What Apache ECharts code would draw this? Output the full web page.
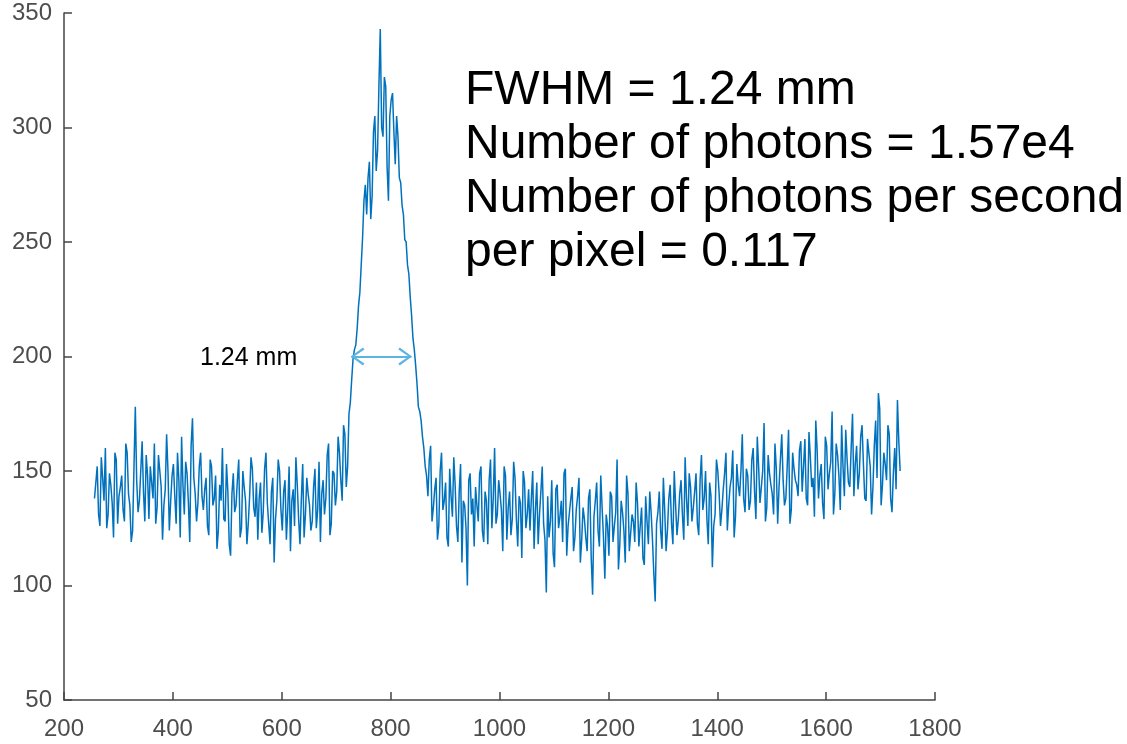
<!DOCTYPE html>
<html>
<head>
<meta charset="utf-8">
<script src="https://cdn.jsdelivr.net/npm/echarts@6/dist/echarts.min.js"></script>
<style>
html,body{margin:0;padding:0;background:#fff;}
#chart{width:1127px;height:744px;}
</style>
</head>
<body>
<div id="chart"></div>
<script>
// sample positions (detector pixel index) and read-off counts
const xStart = 256;
const xStep = 5;
// counts at xStart + i*xStep
const signal = [
  138,152,126,147,160,131,144,121,155,139,148,128,158,135,124,178,132,150,141,157,
  129,145,162,134,150,120,142,150,137,153,127,146,165,131,149,119,173,140,136,158,
  133,147,122,152,138,116,144,160,128,141,113,149,135,155,125,143,118,139,151,130,
  120,145,132,158,127,141,110,137,150,124,146,133,115,142,156,129,138,121,147,135,
  128,151,133,119,146,138,162,127,149,141,158,137,166,152,180,199,205,222,240,268,
  262,285,270,305,290,343,296,318,268,312,298,305,278,266,251,240,226,208,196,178,
  172,160,148,155,128,142,120,150,133,145,117,139,156,126,141,110,135,100,149,138,
  143,128,152,119,137,146,125,160,131,140,115,148,134,122,154,129,139,112,145,131,
  124,150,133,118,141,127,97,121,146,108,144,130,119,151,126,138,115,133,147,120,
  129,115,142,96,137,124,148,121,131,113,139,126,155,118,132,110,140,123,128,145,
  117,134,109,128,141,120,93,132,124,147,115,138,127,150,122,140,131,156,126,143,
  134,149,122,157,138,129,145,108,131,150,126,142,158,135,147,121,153,139,166,132,
  148,137,160,129,152,143,171,134,149,140,162,127,155,146,138,168,133,151,144,159,
  141,164,135,156,147,172,138,153,129,161,149,176,140,157,133,152,168,145,160,139,
  161,149,170,138,164,152,143,172,184,135,158,146,166,132,160,181,150
];
// counts at the in-between samples xStart + xStep/2 + i*xStep
const signalMid = [
  145,131,156,137,125,149,136,158,127,143,133,162,140,119,151,146,137,163,128,148,
  152,138,127,157,143,135,166,124,148,139,158,121,144,154,136,161,147,128,152,139,
  142,126,155,135,148,124,137,129,153,118,140,132,146,121,150,137,127,156,134,145,
  138,123,151,136,118,147,129,155,133,141,120,152,137,126,144,118,153,131,140,124,
  143,125,154,140,131,157,122,150,135,165,146,170,143,175,190,203,212,228,252,275,
  278,260,298,281,318,300,322,283,305,315,284,296,276,262,250,236,218,203,188,176,
  165,152,139,161,134,147,126,158,137,121,151,130,144,119,153,137,125,146,131,117,
  135,149,124,141,118,155,138,127,146,133,152,120,141,129,147,117,136,150,125,142,
  138,116,145,131,152,120,139,128,114,142,125,137,149,113,132,143,121,139,110,134,
  121,138,112,130,145,117,134,103,126,141,119,132,107,137,124,148,115,131,119,136,
  126,112,139,118,132,105,127,141,116,133,124,144,118,135,129,146,120,138,149,128,
  141,127,146,133,150,118,139,126,155,140,133,149,124,143,159,130,144,150,138,151,
  133,155,141,165,136,150,128,157,144,131,151,143,166,135,152,127,158,146,139,163,
  152,138,167,143,130,159,148,136,165,142,154,131,162,148,170,139,155,143,175,153,
  142,165,153,137,158,131,161,147,177,144,153,170,138,149,142,163
];
const xTicks = [200, 1800, 200];   // min, max, interval
const yTicks = [50, 350, 50];      // min, max, interval
const fwhmArrow = [728, 838, 200]; // x start, x end, level
const fwhmLabel = '1.24 mm';
const infoLines = [
  'FWHM = 1.24 mm',
  'Number of photons = 1.57e4',
  'Number of photons per second',
  'per pixel = 0.117'
];

const points = [];
signal.forEach((v, i) => {
  points.push([xStart + i * xStep, v]);
  if (i < signalMid.length) points.push([xStart + i * xStep + xStep / 2, signalMid[i]]);
});

// open chevron whose tip sits at the symbol centre (invisible point balances the bbox)
const chevron = 'path://M9,-13 L9.01,-13 L9,-12.99 Z M0,13 L9,0 L18,13 L16,14.5 L9,3.6 L2,14.5 Z';
const axisColor = '#454545';
const labelColor = '#4d4d4d';
const font = '"Liberation Sans", Arial, sans-serif';

const chart = echarts.init(document.getElementById('chart'), null, {renderer: 'canvas'});
chart.setOption({
  animation: false,
  backgroundColor: '#ffffff',
  grid: {left: 64, right: 192, top: 13, bottom: 44, containLabel: false},
  xAxis: {
    type: 'value', min: xTicks[0], max: xTicks[1], interval: xTicks[2],
    axisLine: {show: true, onZero: false, lineStyle: {color: axisColor, width: 1.5}},
    axisTick: {show: true, inside: true, length: 8, lineStyle: {color: axisColor, width: 1.5}},
    splitLine: {show: false},
    axisLabel: {fontSize: 24, color: labelColor, margin: 17, fontFamily: font,
                showMinLabel: true, showMaxLabel: true, formatter: v => String(v)}
  },
  yAxis: {
    type: 'value', min: yTicks[0], max: yTicks[1], interval: yTicks[2],
    axisLine: {show: true, onZero: false, lineStyle: {color: axisColor, width: 1.5}},
    axisTick: {show: true, inside: true, length: 8, lineStyle: {color: axisColor, width: 1.5}},
    splitLine: {show: false},
    axisLabel: {fontSize: 24, color: labelColor, margin: 12, fontFamily: font,
                showMinLabel: true, showMaxLabel: true, formatter: v => String(v)}
  },
  series: [{
    type: 'line',
    data: points,
    showSymbol: false,
    symbol: 'none',
    lineStyle: {color: '#0072BD', width: 1.5},
    z: 2,
    markLine: {
      silent: true,
      symbol: [chevron, chevron],
      symbolSize: [18, 26],
      label: {show: false},
      lineStyle: {color: '#5BB5E0', width: 2, type: 'solid'},
      data: [[{coord: [fwhmArrow[0], fwhmArrow[2]]}, {coord: [fwhmArrow[1], fwhmArrow[2]]}]]
    }
  }],
  graphic: [
    {type: 'text', left: 200, top: 346, z: 10,
     style: {text: fwhmLabel, font: '25px ' + font, fill: '#000'}},
    {type: 'text', left: 465, top: 64, z: 10,
     style: {text: infoLines.join('\n'), font: '48px ' + font, fill: '#000', lineHeight: 54}}
  ]
});
</script>
</body>
</html>
